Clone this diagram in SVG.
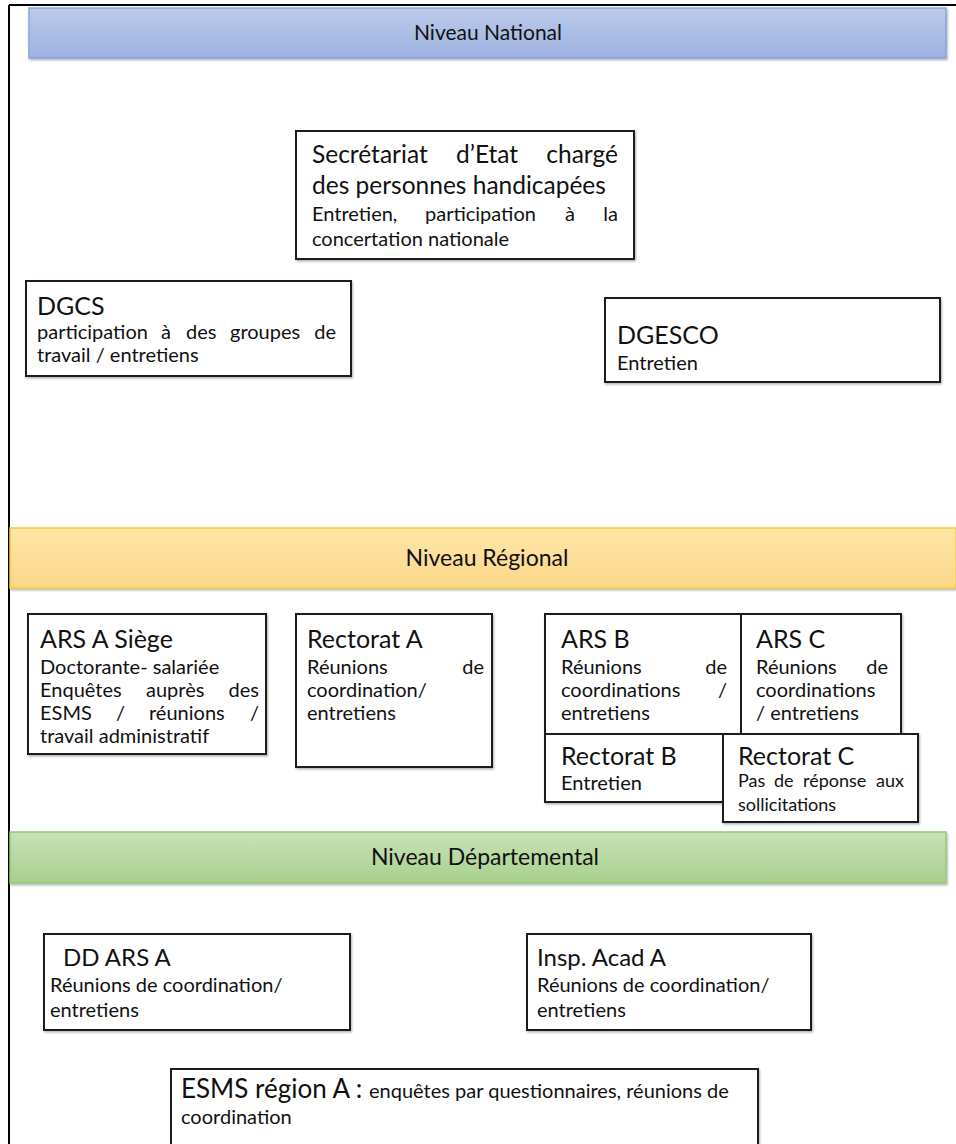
<svg xmlns="http://www.w3.org/2000/svg" width="956" height="1144" viewBox="0 0 956 1144">
<style>
  .box{fill:#fff;stroke:#1e1e1e;stroke-width:2}
  .t{font-family:Lato,"Open Sans","Liberation Sans",sans-serif;fill:#111}
  .band{font-family:Lato,"Open Sans","Liberation Sans",sans-serif;fill:#111;text-anchor:middle}
  .h{font-size:25px}
  .b{font-size:20px}
  .e{text-anchor:end}
</style>
<defs>
  <linearGradient id="gBlue" x1="0" y1="0" x2="0" y2="1"><stop offset="0" stop-color="#bccaeb"/><stop offset="1" stop-color="#9cb2df"/></linearGradient>
  <linearGradient id="gOrange" x1="0" y1="0" x2="0" y2="1"><stop offset="0" stop-color="#fee6a8"/><stop offset="1" stop-color="#fbd788"/></linearGradient>
  <linearGradient id="gGreen" x1="0" y1="0" x2="0" y2="1"><stop offset="0" stop-color="#c8e2b8"/><stop offset="1" stop-color="#a8d08d"/></linearGradient>
  <filter id="sh" x="-5%" y="-5%" width="110%" height="115%"><feDropShadow dx="1" dy="1.5" stdDeviation="1" flood-color="#000" flood-opacity="0.3"/></filter>
</defs>
<rect width="956" height="1144" fill="#fff"/>
<g id="frame">
  <line x1="9" y1="5" x2="956" y2="5" stroke="#000" stroke-width="2"/>
  <line x1="9" y1="5" x2="9" y2="1144" stroke="#000" stroke-width="2"/>
</g>
<g id="connectors"></g>
<g id="band-national">
  <rect x="29" y="8" width="917" height="50" fill="url(#gBlue)" stroke="#86a5da" stroke-width="1.5" filter="url(#sh)"/>
  <text class="band" style="font-size:21px" x="488" y="40">Niveau National</text>
</g>
<g id="band-regional">
  <rect x="10" y="528" width="946" height="60" fill="url(#gOrange)" stroke="#f2cc3a" stroke-width="1.5" filter="url(#sh)"/>
  <text class="band" style="font-size:23px" x="487" y="566">Niveau Régional</text>
</g>
<g id="band-departemental">
  <rect x="10" y="832" width="936" height="51" fill="url(#gGreen)" stroke="#95c975" stroke-width="1.5" filter="url(#sh)"/>
  <text class="band" style="font-size:23px" x="485" y="865">Niveau Départemental</text>
</g>
<g id="secretariat">
  <rect class="box" x="296" y="131" width="338" height="128" filter="url(#sh)"/>
  <text class="t" style="font-size:24.5px" x="312" y="163">Secrétariat</text>
  <text class="t" style="font-size:24.5px" x="456" y="163">d’Etat</text>
  <text class="t e" style="font-size:24.5px" x="618" y="163">chargé</text>
  <text class="t" style="font-size:24.5px" x="312" y="194">des personnes handicapées</text>
  <text class="t b" x="312" y="221">Entretien,</text>
  <text class="t b" x="425" y="221">participation</text>
  <text class="t b" x="565" y="221">à</text>
  <text class="t b e" x="618" y="221">la</text>
  <text class="t b" x="312" y="246">concertation nationale</text>
</g>
<g id="dgcs">
  <rect class="box" x="26" y="281" width="325" height="95" filter="url(#sh)"/>
  <text class="t h" x="37" y="315">DGCS</text>
  <text class="t b" x="37" y="339">participation</text>
  <text class="t b" x="161" y="339">à</text>
  <text class="t b" x="186" y="339">des</text>
  <text class="t b" x="230" y="339">groupes</text>
  <text class="t b e" x="336" y="339">de</text>
  <text class="t b" x="37" y="362">travail / entretiens</text>
</g>
<g id="dgesco">
  <rect class="box" x="605" y="298" width="335" height="84" filter="url(#sh)"/>
  <text class="t h" x="617" y="344">DGESCO</text>
  <text class="t b" x="617" y="370">Entretien</text>
</g>
<g id="ars-a-siege">
  <rect class="box" x="28" y="614" width="238" height="140" filter="url(#sh)"/>
  <text class="t h" x="40" y="648">ARS A Siège</text>
  <text class="t b" x="40" y="674">Doctorante- salariée</text>
  <text class="t b" x="40" y="697">Enquêtes</text>
  <text class="t b" x="146" y="697">auprès</text>
  <text class="t b e" x="259" y="697">des</text>
  <text class="t b" x="40" y="720">ESMS</text>
  <text class="t b" x="116" y="720">/</text>
  <text class="t b" x="149" y="720">réunions</text>
  <text class="t b e" x="259" y="720">/</text>
  <text class="t b" x="40" y="743">travail administratif</text>
</g>
<g id="rectorat-a">
  <rect class="box" x="296" y="614" width="196" height="153" filter="url(#sh)"/>
  <text class="t h" x="307" y="648">Rectorat A</text>
  <text class="t b" x="307" y="674">Réunions</text>
  <text class="t b e" x="484" y="674">de</text>
  <text class="t b" x="307" y="697">coordination/</text>
  <text class="t b" x="307" y="720">entretiens</text>
</g>
<g id="ars-b">
  <rect class="box" x="545" y="614" width="196" height="120" filter="url(#sh)"/>
  <text class="t h" x="561" y="648">ARS B</text>
  <text class="t b" x="561" y="674">Réunions</text>
  <text class="t b e" x="727" y="674">de</text>
  <text class="t b" x="561" y="697">coordinations</text>
  <text class="t b e" x="727" y="697">/</text>
  <text class="t b" x="561" y="720">entretiens</text>
</g>
<g id="ars-c">
  <rect class="box" x="741" y="614" width="160" height="120" filter="url(#sh)"/>
  <text class="t h" x="756" y="648">ARS C</text>
  <text class="t b" x="756" y="674">Réunions</text>
  <text class="t b e" x="888" y="674">de</text>
  <text class="t b" x="756" y="697">coordinations</text>
  <text class="t b" x="756" y="720">/ entretiens</text>
</g>
<g id="rectorat-b">
  <rect class="box" x="545" y="734" width="178" height="68" filter="url(#sh)"/>
  <text class="t h" x="561" y="765">Rectorat B</text>
  <text class="t b" x="561" y="790">Entretien</text>
</g>
<g id="rectorat-c">
  <rect class="box" x="723" y="734" width="195" height="88" filter="url(#sh)"/>
  <text class="t h" x="738" y="765">Rectorat C</text>
  <text class="t" style="font-size:18px" x="738" y="787">Pas</text>
  <text class="t" style="font-size:18px" x="774" y="787">de</text>
  <text class="t" style="font-size:18px" x="803" y="787">réponse</text>
  <text class="t e" style="font-size:18px" x="904" y="787">aux</text>
  <text class="t" style="font-size:18px" x="738" y="811">sollicitations</text>
</g>
<g id="dd-ars-a">
  <rect class="box" x="44" y="934" width="306" height="96" filter="url(#sh)"/>
  <text class="t" style="font-size:24px" x="63" y="966">DD ARS A</text>
  <text class="t b" x="50" y="992">Réunions de coordination/</text>
  <text class="t b" x="50" y="1017">entretiens</text>
</g>
<g id="insp-acad-a">
  <rect class="box" x="527" y="934" width="284" height="96" filter="url(#sh)"/>
  <text class="t" style="font-size:24px" x="537" y="966">Insp. Acad A</text>
  <text class="t b" x="537" y="992">Réunions de coordination/</text>
  <text class="t b" x="537" y="1017">entretiens</text>
</g>
<g id="esms">
  <rect class="box" x="171" y="1069" width="587" height="90" filter="url(#sh)"/>
  <text class="t" x="181" y="1098"><tspan style="font-size:26px">ESMS région A : </tspan><tspan style="font-size:20px">enquêtes par questionnaires, réunions de</tspan></text>
  <text class="t b" x="181" y="1124">coordination</text>
</g>
</svg>
